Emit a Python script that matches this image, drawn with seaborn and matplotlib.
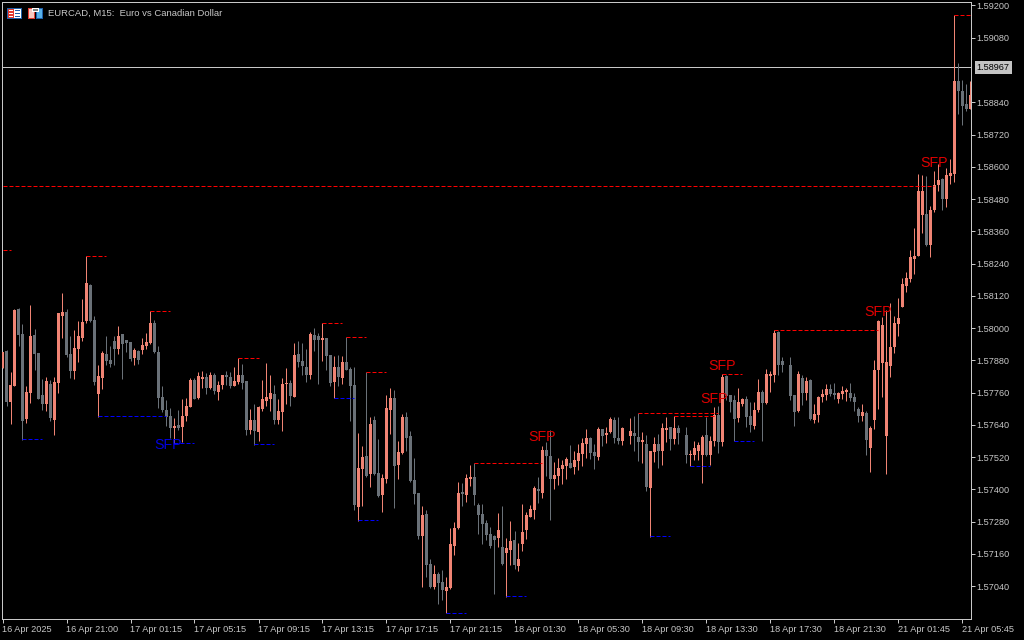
import matplotlib
matplotlib.use("Agg")
import matplotlib.pyplot as plt
import numpy as np
import pandas as pd
import seaborn as sns
from matplotlib.patches import Rectangle
from matplotlib.transforms import Affine2D, IdentityTransform

# === DATA: EURCAD M15, values in points above 1.57000 ===
BASE = 1.57
POINT = 0.00001

# U = salmon (up), D = grey (down), . = no visible bar
direction = ("UDUUDDUUDD DUDUUUDDUU UUDDUUDDDU DDDUDUUUDD DDDUDUUUDU "
             "UDUDUUDDUU DDUDUUUUDU UUDUDDDUDD UDDUDUDDDU UDUDDUUUDU "
             "UDDDDUDDUD DUUUUDUUDD DDDDUDUUDU UUUUDUDDUU UUDUUUUDDU "
             "DUUDDU.UDD UDUUDUUDUD .DUUUUDUUD UDDDUUDDUU DUUUDD.DDU "
             "DUDUUUUDDU UUDDDUDUUU UUUUUUUUUU UDUUUDUUUD DDU").replace(" ", "")

highs = [912, 920, 836, 1070, 1075, 1015, 784, 1085, 996, 907,
         812, 817, 806, 817, 1055, 1130, 1070, 970, 992, 1026,
         1107, 1267, 1163, 1044, 862, 914, 970, 933, 970, 1007,
         977, 955, 948, 925, 918, 962, 981, 1062, 1029, 933,
         784, 732, 702, 665, 695, 736, 739, 814, 814, 836,
         840, 832, 836, 832, 802, 825, 840, 836, 855, 888,
         866, 802, 698, 717, 709, 806, 869, 825, 788, 736,
         814, 851, 806, 944, 951, 944, 922, 985, 1000, 981,
         1018, 962, 899, 895, 899, 896, 966, 855, 855, 610,
         561, 835, 669, 673, 587, 457, 751, 777, 770, 580,
         680, 688, 617, 517, 386, 338, 323, 141, 119, 93,
         100, 74, 256, 279, 427, 424, 457, 491, 497, 349,
         346, 286, 260, 230, 312, 338, 219, 282, 245, 200,
         346, 316, 342, 412, 446, 561, 576, 621, 502, 517,
         509, 520, 565, 543, 569, 591, 625, 595, 569, 632,
         625, 632, 669, 669, 669, 632, None, 665, 673, 684,
         613, 602, 543, 595, 606, 647, 669, 632, 673, 639,
         None, 632, 546, 579, 576, 602, 669, 598, 706, 710,
         829, 825, 751, 751, 777, 739, 747, 725, 725, 810,
         769, 847, 840, 992, 989, 892, None, 892, 751, 840,
         825, 818, 810, 717, 747, 773, 792, 792, 795, 762,
         784, 777, 795, 758, 706, 717, 691, 635, 881, 1030,
         1042, 1067, 1094, 1044, 1113, 1185, 1209, 1290, 1372, 1573,
         1569, 1565, 1454, 1584, 1612, 1558, 1595, 1629, 2163, 1986,
         1922, 1908, 1919]

body_top = [912, 914, 788, 1068, 1070, 977, 762, 970, 974, 907,
            750, 802, 791, 799, 1055, 1059, 1059, 903, 925, 970,
            1022, 1167, 1160, 1029, 821, 907, 903, 881, 951, 970,
            977, 955, 948, 918, 914, 936, 948, 1018, 1018, 910,
            743, 695, 672, 635, 639, 672, 709, 806, 806, 821,
            817, 817, 825, 825, 788, 825, 825, 817, 802, 825,
            825, 802, 657, 657, 706, 736, 743, 758, 754, 691,
            791, 795, 795, 899, 903, 877, 855, 977, 974, 970,
            962, 962, 899, 855, 855, 874, 874, 848, 788, 479,
            520, 524, 643, 658, 461, 442, 703, 740, 740, 539,
            669, 669, 598, 435, 386, 305, 308, 122, 85, 85,
            55, 37, 197, 256, 386, 390, 442, 446, 446, 342,
            308, 275, 234, 226, 249, 186, 182, 208, 212, 141,
            241, 305, 327, 405, 401, 546, 546, 524, 453, 479,
            491, 513, 498, 509, 535, 572, 591, 591, 539, 625,
            625, 610, 662, 658, 591, 628, None, 617, 610, 595,
            584, 569, 543, 569, 569, 628, 628, 632, 628, 628,
            None, 602, 531, 553, 565, 594, 602, 579, 676, 676,
            818, 821, 751, 732, 725, 736, 736, 672, 695, 762,
            762, 829, 829, 981, 985, 877, None, 862, 751, 829,
            814, 803, 806, 680, 743, 754, 773, 773, 758, 758,
            765, 769, 758, 743, 698, 687, 684, 628, 844, 1026,
            1011, 873, 929, 1018, 1037, 1164, 1186, 1263, 1268, 1509,
            1509, 1424, 1439, 1532, 1550, 1554, 1569, 1576, 1919, 1919,
            1881, 1833, 1867]

body_bottom = [850, 724, 724, 786, 974, 654, 662, 758, 903, 736,
               717, 717, 665, 657, 795, 1044, 899, 840, 840, 922,
               962, 1026, 1026, 799, 754, 814, 877, 866, 922, 922,
               940, 944, 884, 888, 881, 918, 933, 944, 910, 739,
               695, 669, 628, 628, 628, 631, 672, 706, 736, 739,
               810, 776, 776, 765, 762, 788, 817, 784, 784, 799,
               795, 620, 620, 616, 613, 698, 728, 736, 657, 657,
               687, 791, 747, 743, 873, 858, 825, 825, 955, 955,
               955, 895, 795, 799, 817, 814, 844, 784, 342, 334,
               476, 450, 457, 457, 375, 379, 439, 695, 487, 491,
               535, 591, 431, 383, 226, 226, 119, 37, 37, 52,
               26, 22, 33, 189, 256, 383, 379, 439, 379, 305,
               271, 230, 189, 212, 219, 122, 163, 174, 119, 115,
               197, 249, 297, 323, 394, 386, 524, 439, 439, 450,
               476, 487, 479, 483, 505, 532, 569, 535, 524, 520,
               598, 602, 613, 591, 580, 580, None, 598, 598, 576,
               576, 409, 405, 539, 543, 543, 621, 587, 587, 610,
               None, 527, 527, 527, 542, 527, 527, 527, 579, 576,
               576, 747, 725, 661, 665, 717, 669, 639, 635, 695,
               721, 721, 821, 825, 862, 862, None, 747, 687, 691,
               758, 758, 661, 658, 676, 743, 751, 754, 751, 736,
               754, 762, 739, 725, 672, 672, 583, 553, 658, 844,
               870, 598, 858, 929, 1015, 1079, 1156, 1182, 1257, 1268,
               1420, 1309, 1309, 1439, 1532, 1480, 1480, 1565, 1573, 1881,
               1826, 1815, 1815]

lows = [850, 711, 644, 784, 934, 585, 647, 721, 843, 736,
        695, 692, 654, 602, 758, 962, 893, 814, 810, 873,
        951, 1018, 1022, 788, 670, 773, 862, 855, 862, 903,
        810, 910, 877, 862, 866, 903, 922, 940, 907, 702,
        687, 635, 590, 570, 620, 576, 654, 706, 736, 736,
        776, 754, 773, 754, 732, 773, 788, 776, 784, 791,
        773, 602, 605, 567, 579, 691, 709, 691, 642, 642,
        616, 717, 709, 743, 855, 825, 799, 810, 914, 791,
        877, 843, 784, 739, 784, 792, 844, 654, 323, 284,
        338, 446, 409, 453, 372, 316, 424, 606, 331, 439,
        532, 543, 427, 346, 215, 37, 74, 33, 29, -26,
        -12, -60, 29, 156, 253, 338, 353, 412, 342, 234,
        197, 212, 182, 11, 186, 119, 0, 119, 104, 96,
        171, 215, 297, 290, 349, 368, 450, 286, 401, 416,
        420, 439, 479, 457, 472, 487, 517, 513, 476, 509,
        561, 572, 610, 572, 569, 565, None, 569, 543, 505,
        498, 394, 223, 502, 479, 491, 576, 546, 569, 569,
        None, 498, 487, 509, 509, 423, 524, 490, 561, 535,
        561, 732, 687, 579, 650, 710, 632, 613, 624, 687,
        579, 717, 762, 799, 825, 836, None, 732, 635, 687,
        713, 732, 658, 646, 650, 725, 732, 747, 736, 721,
        736, 728, 728, 691, 650, 654, 527, 464, 624, 699,
        743, 457, 818, 907, 970, 1079, 1135, 1172, 1201, 1268,
        1352, 1305, 1264, 1431, 1509, 1439, 1450, 1535, 1543, 1796,
        1755, 1807, 1815]

# swing levels: (first bar, last bar, points)
red_levels = [(0, 2, 1289), (21, 26, 1266), (37, 42, 1062), (59, 64, 887),
              (80, 85, 1017), (86, 91, 966), (91, 96, 835), (118, 135, 497),
              (159, 179, 683), (168, 178, 671), (180, 185, 828), (193, 219, 991),
              (0, 233, 1527), (238, 243, 2163)]
blue_levels = [(5, 10, 585), (24, 41, 671), (43, 48, 570), (63, 68, 567),
               (83, 88, 739), (89, 94, 284), (111, 116, -60), (126, 131, 0),
               (162, 167, 223), (172, 177, 487), (183, 188, 579)]

# SFP labels: (bar, points, colour)
sfp_labels = [(41.5, 565, "#0000e0"), (135, 595, "#e00000"), (180, 859, "#e00000"),
              (178, 736, "#e00000"), (219, 1060, "#e00000"), (233, 1614, "#e00000")]

current_price = 1.58967
price_ticks = [1.59200, 1.59080, 1.58840, 1.58720, 1.58600, 1.58480, 1.58360, 1.58240,
               1.58120, 1.58000, 1.57880, 1.57760, 1.57640, 1.57520, 1.57400, 1.57280,
               1.57160, 1.57040]
time_labels = ["16 Apr 2025", "16 Apr 21:00", "17 Apr 01:15", "17 Apr 05:15",
               "17 Apr 09:15", "17 Apr 13:15", "17 Apr 17:15", "17 Apr 21:15",
               "18 Apr 01:30", "18 Apr 05:30", "18 Apr 09:30", "18 Apr 13:30",
               "18 Apr 17:30", "18 Apr 21:30", "21 Apr 01:45", "21 Apr 05:45"]
title = "EURCAD, M15:  Euro vs Canadian Dollar"

# === STYLE ===
UP = "#f08474"
DOWN = "#6a7178"
FG = "#c8c8c8"
PX = 0.72  # one pixel in points at dpi 100

sns.set_theme(style="dark", rc={"figure.facecolor": "black", "axes.facecolor": "black",
                                "axes.edgecolor": FG, "axes.linewidth": PX})
plt.rcParams["font.family"] = ["Liberation Sans", "DejaVu Sans"]


def to_price(values):
    return BASE + np.array(values, dtype=float) * POINT


df = pd.DataFrame({"bar": range(len(highs)), "dir": list(direction),
                   "high": to_price(highs), "top": to_price(body_top),
                   "bottom": to_price(body_bottom), "low": to_price(lows)}).dropna()
df["size"] = df["top"] - df["bottom"]

W, H = 1024, 640
fig = plt.figure(figsize=(W / 100, H / 100), dpi=100)
# edges a quarter pixel off so the spines snap onto whole pixels
ax = fig.add_axes([2.25 / W, 20.75 / H, 969 / W, 617 / H])

# === CANDLES ===
for d, colour in (("U", UP), ("D", DOWN)):
    part = df[df["dir"] == d]
    wicks = ax.vlines(part["bar"], part["low"], part["high"], color=colour, lw=PX, zorder=2)
    wicks.set_snap(True)
    sns.barplot(data=part, x="bar", y="size", bottom=part["bottom"].values, native_scale=True,
                color=colour, saturation=1, width=0.75, gap=0, errorbar=None,
                linewidth=0, zorder=3, ax=ax)

# === LEVELS ===
# half a pixel up, the snapping rounds thin horizontals downward
level_shift = Affine2D().translate(0, 0.5)
for levels, colour in ((red_levels, "#ff0000"), (blue_levels, "#0000ff")):
    for start, end, value in levels:
        line = ax.hlines(BASE + value * POINT, start, end, color=colour, lw=PX,
                         linestyles=(0, (4, 2)), zorder=4)
        line.set_transform(ax.transData + level_shift)
        line.set_snap(True)

price_line = ax.axhline(current_price, color=FG, lw=PX, zorder=1)
price_line.set_transform(ax.get_yaxis_transform() + Affine2D().translate(0, 1))
price_line.set_snap(True)

for bar, value, colour in sfp_labels:
    ax.text(bar, BASE + value * POINT, "SFP", color=colour, fontsize=10.3,
            ha="center", va="center", zorder=5)

# === AXES ===
ax.set_xlim(-0.0625, 242.1875)
ax.set_ylim(BASE - 83 * POINT, BASE + 2212 * POINT)
ax.set_xlabel("")
ax.set_ylabel("")
ax.yaxis.tick_right()
ax.set_yticks(price_ticks, [f"{p:.5f}" for p in price_ticks])
ax.set_xticks(np.arange(len(time_labels)) * 16, time_labels, ha="left")
ax.tick_params(axis="x", pad=1.6)
ax.tick_params(axis="y", pad=0.6)
ax.tick_params(axis="both", colors=FG, labelsize=6.6, length=2.8, width=PX,
               bottom=True, right=True, left=False, top=False)
for side in ax.spines.values():
    side.set_visible(True)
    side.set_color(FG)
    side.set_linewidth(PX)

ax.annotate(f"{current_price:.5f}", xy=(1, current_price), xycoords=ax.get_yaxis_transform(),
            xytext=(4.0, 0.6), textcoords="offset points", ha="left", va="center",
            fontsize=6.6, color="black", zorder=6, annotation_clip=False,
            bbox=dict(boxstyle="square,pad=0.2", fc="#c4c4c4", ec="none"))

# === HEADER ===
fig.text(48 / W, 1 - 13.5 / H, title, color=FG, fontsize=6.8, va="center", ha="left")


def box(x, y, w, h, colour):
    fig.add_artist(Rectangle((x, H - y - h), w, h, fc=colour, ec="none",
                             transform=IdentityTransform()))


# table icon
box(7, 8, 15, 11, "#1f5fa8")
box(8, 9, 13, 9, "white")
box(8, 9, 6, 9, "#e03a30")
for row in (10, 13, 16):
    box(9, row, 4, 1, "white")
    box(15, row, 5, 1, "#1f5fa8")
# window icon
box(28, 8, 7, 11, "#e03a30")
box(29, 9, 5, 9, "#f8c8c0")
box(36, 8, 7, 11, "#1f5fa8")
box(37, 9, 5, 9, "#58b0e8")
box(32, 8, 7, 4, "white")
box(33, 9, 5, 2, "#808080")

fig.savefig("out.png", dpi=100, facecolor="black")
